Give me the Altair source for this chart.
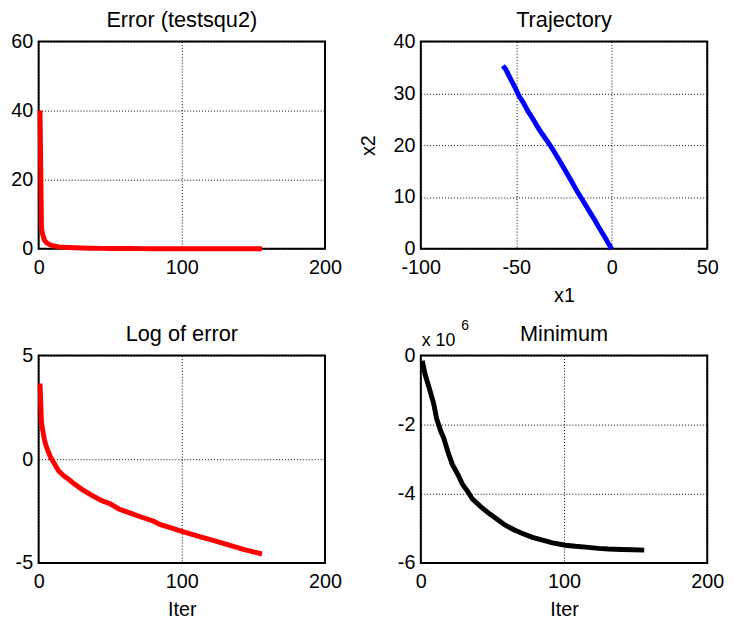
import altair as alt
import pandas as pd

# ---------------- data ----------------
# Panel 1: Error (testsqu2)
err_iter = [1, 2, 3, 4, 5, 6, 8, 10, 14, 18, 21, 25, 30, 36, 44, 50, 56, 64, 72,
            80, 85, 92, 100, 106, 113, 120, 129, 136, 143, 150, 156]
err_val = [40.0, 5.8, 3.9, 2.6, 2.0, 1.65, 1.16, 0.9, 0.57, 0.44, 0.38, 0.30, 0.24,
           0.18, 0.135, 0.12, 0.09, 0.074, 0.06, 0.05, 0.043, 0.037, 0.031, 0.027,
           0.024, 0.021, 0.017, 0.015, 0.013, 0.011, 0.010]

# Panel 2: Trajectory (x1, x2), in iteration order
traj_x1 = [-57.0, -55.5, -53.0, -50.5, -48.6, -46.0, -44.0, -41.5, -39.0, -36.5,
           -34.0, -31.4, -29.0, -27.0, -24.5, -22.0, -20.0, -18.0, -15.8, -13.5,
           -11.0, -9.0, -7.0, -5.5, -4.0, -2.5, -1.5, 0.0]
traj_x2 = [35.3, 34.6, 32.8, 31.0, 29.5, 28.0, 26.6, 25.2, 23.6, 22.2, 20.9, 19.5,
           18.0, 16.8, 15.2, 13.6, 12.3, 11.0, 9.7, 8.3, 6.8, 5.6, 4.3, 3.4, 2.5,
           1.5, 0.9, 0.0]

# Panel 3: Log of error
log_iter = err_iter
log_val = [3.65, 1.75, 1.35, 0.95, 0.70, 0.50, 0.15, -0.10, -0.57, -0.82, -0.97,
           -1.20, -1.44, -1.70, -2.00, -2.15, -2.40, -2.60, -2.80, -2.98, -3.16,
           -3.30, -3.48, -3.60, -3.75, -3.88, -4.06, -4.20, -4.35, -4.47, -4.57]

# Panel 4: Minimum
min_iter = [1, 3, 6, 9, 11, 14, 16, 19, 22, 26, 29, 33, 36, 42, 48, 54, 59, 65, 71,
            78, 85, 92, 101, 108, 117, 124, 131, 140, 148, 156]
min_val = [-0.15e6, -0.55e6, -0.96e6, -1.40e6, -1.82e6, -2.20e6, -2.39e6, -2.80e6,
           -3.15e6, -3.45e6, -3.72e6, -3.95e6, -4.15e6, -4.38e6, -4.58e6, -4.76e6,
           -4.91e6, -5.04e6, -5.15e6, -5.26e6, -5.34e6, -5.42e6, -5.49e6, -5.52e6,
           -5.55e6, -5.58e6, -5.60e6, -5.61e6, -5.62e6, -5.63e6]

titles = ["Error (testsqu2)", "Trajectory", "Log of error", "Minimum"]
x_ticks_iter = [0, 100, 200]
x_ticks_traj = [-100, -50, 0, 50]
y_ticks_err = [0, 20, 40, 60]
y_ticks_traj = [0, 10, 20, 30, 40]
y_ticks_log = [-5, 0, 5]
y_ticks_min = [-6e6, -4e6, -2e6, 0]
exponent_base = "x 10"
exponent_power = "6"

# ---------------- styling ----------------
FONT = "Liberation Sans"
W, H = 290, 210


def make_axis(values, title="", label_expr="toString(datum.value)", x=True):
    kw = dict(
        values=values, grid=True, gridDash=[1, 2], gridColor="black",
        gridWidth=1, gridOpacity=1, domain=False, ticks=False,
        labelFont=FONT, labelFontSize=20, labelColor="black",
        labelPadding=9 if x else 6, labelFlush=False, labelOverlap=False,
        labelBound=False, labelExpr=label_expr,
        titleFont=FONT, titleFontSize=20, titleFontWeight="normal",
        titleColor="black", titlePadding=8 if x else 15,
    )
    kw["title"] = title
    return alt.Axis(**kw)


def text_mark(text, size, x, y, align, baseline="alphabetic"):
    return alt.Chart(pd.DataFrame({"t": [text]})).mark_text(
        font=FONT, fontSize=size, align=align, baseline=baseline, color="black"
    ).encode(text="t:N", x=alt.value(x), y=alt.value(y))


def panel(df, xf, yf, xdom, ydom, xaxis, yaxis, color, title, extra=()):
    line = alt.Chart(df).mark_line(color=color, strokeWidth=5).encode(
        x=alt.X(f"{xf}:Q", scale=alt.Scale(domain=xdom, nice=False, zero=False), axis=xaxis),
        y=alt.Y(f"{yf}:Q", scale=alt.Scale(domain=ydom, nice=False, zero=False), axis=yaxis),
        order=alt.Order("step:Q"),
    )
    ttl = text_mark(title, 22, W / 2, -32, "center", baseline="top")
    return alt.layer(line, ttl, *extra).properties(width=W, height=H)


df1 = pd.DataFrame({"iter": err_iter, "err": err_val, "step": range(len(err_iter))})
df2 = pd.DataFrame({"x1": traj_x1, "x2": traj_x2, "step": range(len(traj_x1))})
df3 = pd.DataFrame({"iter": log_iter, "logerr": log_val, "step": range(len(log_iter))})
df4 = pd.DataFrame({"iter": min_iter, "minimum": min_val, "step": range(len(min_iter))})

p1 = panel(df1, "iter", "err", [0, 200], [0, 60],
           make_axis(x_ticks_iter), make_axis(y_ticks_err, x=False),
           "#ff0000", titles[0])
p2 = panel(df2, "x1", "x2", [-100, 50], [0, 40],
           make_axis(x_ticks_traj, "x1"), make_axis(y_ticks_traj, "x2", x=False),
           "#0000ff", titles[1])
p3 = panel(df3, "iter", "logerr", [0, 200], [-5, 5],
           make_axis(x_ticks_iter, "Iter"), make_axis(y_ticks_log, x=False),
           "#ff0000", titles[2])
p4 = panel(df4, "iter", "minimum", [0, 200], [-6e6, 0],
           make_axis(x_ticks_iter, "Iter"),
           make_axis(y_ticks_min, x=False, label_expr="toString(datum.value / 1000000)"),
           "#000000", titles[3],
           extra=[text_mark(exponent_base, 18, 1, -10, "left"),
                  text_mark(exponent_power, 14, 41, -26, "left")])

chart = alt.concat(p1, p2, p3, p4, columns=2,
                   spacing={"row": 108, "column": 97}, bounds="flush").properties(
    padding={"left": 1, "top": -4, "right": 0, "bottom": 0},
    background="white",
).configure_view(stroke="black", strokeWidth=2)

chart.save("out.html", embed_options={"renderer": "svg", "actions": False})
